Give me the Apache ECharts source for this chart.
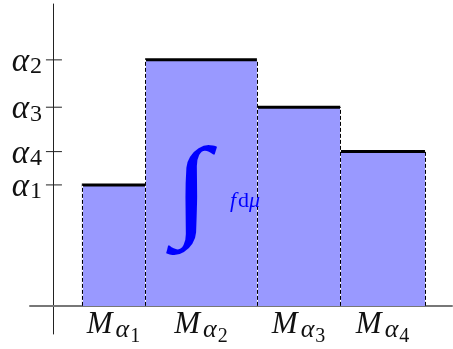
<!DOCTYPE html>
<html><head><meta charset="utf-8">
<script src="https://cdn.jsdelivr.net/npm/echarts@6/dist/echarts.min.js"></script>
<style>html,body{margin:0;padding:0;background:#fff}#c{width:453px;height:349px}</style>
</head><body><div id="c"></div>
<script>
// Data
const categories = ['1', '2', '3', '4'];            // M_{alpha_i}
const edges = [0.78, 2.49, 5.51, 7.76, 10.05];       // x boundaries of the sets M_alpha_i
const heights = [3.27, 6.65, 5.37, 4.17];            // alpha_1..alpha_4
const yTickValues = [3.27, 6.65, 5.37, 4.17];
const yTickLabels = ['1', '2', '3', '4'];

const chart = echarts.init(document.getElementById('c'), null, {renderer: 'canvas'});
const FILL = '#9999ff';
const TXT = '#111';
const serif = '"Liberation Serif", "DejaVu Serif", serif';

const barData = categories.map((c, i) => [edges[i], edges[i + 1], heights[i]]);
const edgeData = edges.map((x, i) => {
  const l = i > 0 ? heights[i - 1] : 0;
  const r = i < heights.length ? heights[i] : 0;
  return [x, Math.max(l, r)];
});
const centers = categories.map((c, i) => (edges[i] + edges[i + 1]) / 2);
const xLabelData = centers.map((c, i) => [c, 0, i]);
const yLabelData = yTickValues.map((v, i) => [0, v, i]);

chart.setOption({
  animation: false,
  grid: {left: 30, right: 1, top: 4, bottom: 15, outerBoundsMode: 'none', containLabel: false},
  xAxis: {
    type: 'value', min: -0.62, max: 10.78,
    splitLine: {show: false},
    axisLine: {onZero: true, lineStyle: {color: '#777', width: 2}},
    axisTick: {show: false},
    axisLabel: {show: false}
  },
  yAxis: {
    type: 'value', min: -0.76, max: 8.16,
    splitLine: {show: false},
    axisLine: {onZero: true, lineStyle: {color: '#222', width: 1}},
    axisTick: {show: false},
    axisLabel: {show: false}
  },
  series: [
    {
      type: 'custom', coordinateSystem: 'cartesian2d', data: barData, z: 2,
      encode: {x: [0, 1], y: 2},
      renderItem: function (params, api) {
        const p0 = api.coord([api.value(0), 0]);
        const p1 = api.coord([api.value(1), api.value(2)]);
        return {
          type: 'group', children: [
            {type: 'rect', shape: {x: p0[0], y: p1[1], width: p1[0] - p0[0], height: p0[1] - p1[1]},
             style: {fill: FILL}},
            {type: 'line', shape: {x1: p0[0], y1: p1[1], x2: p1[0], y2: p1[1]},
             style: {stroke: '#000', lineWidth: 3}, z2: 10}
          ]
        };
      }
    },
    {
      type: 'custom', coordinateSystem: 'cartesian2d', data: edgeData, z: 3,
      encode: {x: 0, y: 1},
      renderItem: function (params, api) {
        const p0 = api.coord([api.value(0), 0]);
        const p1 = api.coord([api.value(0), api.value(1)]);
        const x = Math.round(p0[0]) + 0.5;
        return {
          type: 'group', children: [
            {type: 'line', shape: {x1: x, y1: p0[1], x2: x, y2: p1[1]},
             style: {stroke: '#fff', lineWidth: 1}},
            {type: 'line', shape: {x1: x, y1: p0[1], x2: x, y2: p1[1]},
             style: {stroke: '#000', lineWidth: 1, lineDash: [4, 2]}}
          ]
        };
      }
    },
    {
      // y ticks (crossing the axis) and their labels alpha_i
      type: 'custom', coordinateSystem: 'cartesian2d', data: yLabelData, z: 4,
      encode: {x: 0, y: 1},
      renderItem: function (params, api) {
        const p = api.coord([api.value(0), api.value(1)]);
        const idx = api.value(2);
        return {
          type: 'group', children: [
            {type: 'line', shape: {x1: p[0] - 7, y1: p[1], x2: p[0] + 9, y2: p[1]},
             style: {stroke: '#222', lineWidth: 1}},
            {type: 'text', x: 42, y: p[1] - 20,
             style: {
               text: '{a|α}{s|' + yTickLabels[idx] + '}', align: 'right', verticalAlign: 'top',
               rich: {
                 a: {fontFamily: serif, fontStyle: 'italic', fontSize: 33, fill: TXT, lineHeight: 20, verticalAlign: 'top', padding: [6, 1, 0, 0]},
                 s: {fontFamily: serif, fontSize: 24, fill: TXT, lineHeight: 20, verticalAlign: 'top', padding: [15, 0, 0, 0]}
               }
             }}
          ]
        };
      }
    },
    {
      // x labels M_{alpha_i}
      type: 'custom', coordinateSystem: 'cartesian2d', data: xLabelData, z: 4,
      encode: {x: 0, y: 1},
      renderItem: function (params, api) {
        const p = api.coord([api.value(0), api.value(1)]);
        const idx = api.value(2);
        return {
          type: 'text', x: p[0], y: p[1] - 3,
          style: {
            text: '{m|M}{a|α}{s|' + categories[idx] + '}', align: 'center', verticalAlign: 'top',
            rich: {
              m: {fontFamily: serif, fontStyle: 'italic', fontSize: 31, fill: TXT, lineHeight: 20, verticalAlign: 'top', padding: [6, 3, 0, 0]},
              a: {fontFamily: serif, fontStyle: 'italic', fontSize: 26, fill: TXT, lineHeight: 20, verticalAlign: 'top', padding: [14, 1, 0, 0]},
              s: {fontFamily: serif, fontSize: 20, fill: TXT, lineHeight: 20, verticalAlign: 'top', padding: [24, 0, 0, 0]}
            }
          }
        };
      }
    }
  ],
  graphic: [
    {type: 'text', left: 173, top: 140, z: 100, scaleX: 1.2,
     style: {text: '∫', font: 'italic 112px "Liberation Serif", serif', fill: '#0000ff'}},
    {type: 'text', left: 230, top: 190, z: 100,
     style: {
       text: '{f|f}{d|d}{m|μ}',
       rich: {
         f: {fontFamily: serif, fontStyle: 'italic', fontSize: 22, fill: '#0000ff', padding: [0, 2, 0, 0]},
         d: {fontFamily: serif, fontSize: 22, fill: '#0000ff'},
         m: {fontFamily: serif, fontStyle: 'italic', fontSize: 22, fill: '#0000ff'}
       }
     }}
  ]
});
</script></body></html>
